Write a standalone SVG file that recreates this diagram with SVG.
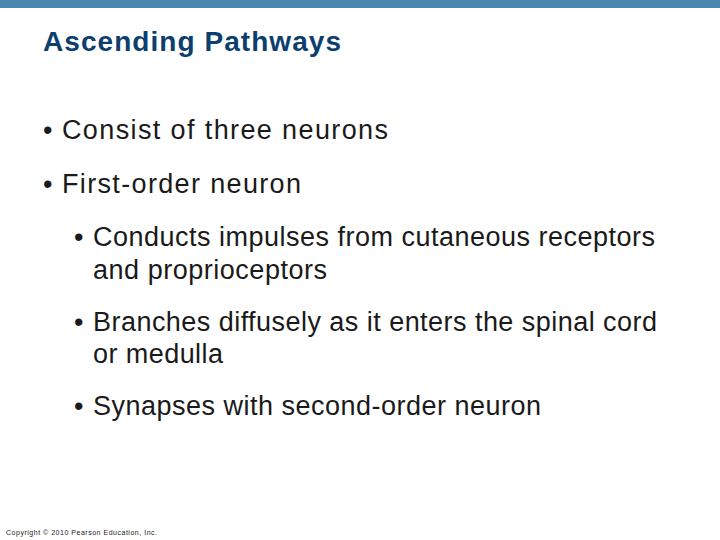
<svg xmlns="http://www.w3.org/2000/svg" width="720" height="540" viewBox="0 0 720 540">
<style>
text{font-family:"Liberation Sans",Arial,sans-serif;fill:#1a1a1a;font-size:27px}
</style>
<rect width="720" height="540" fill="#fff"/>
<rect width="720" height="8" fill="#4a86b0"/>
<text x="43" y="51" font-weight="bold" style="fill:#0d3f6e;font-size:28px" textLength="298" lengthAdjust="spacing">Ascending Pathways</text>
<text x="43" y="139">•</text><text x="62" y="139" textLength="326" lengthAdjust="spacing">Consist of three neurons</text>
<text x="43" y="193">•</text><text x="62" y="193" textLength="239" lengthAdjust="spacing">First-order neuron</text>
<text x="74" y="246">•</text><text x="93" y="246" textLength="562" lengthAdjust="spacing">Conducts impulses from cutaneous receptors</text>
<text x="93" y="279" textLength="234" lengthAdjust="spacing">and proprioceptors</text>
<text x="74" y="331">•</text><text x="93" y="331" textLength="564" lengthAdjust="spacing">Branches diffusely as it enters the spinal cord</text>
<text x="93" y="363" textLength="130" lengthAdjust="spacing">or medulla</text>
<text x="74" y="415">•</text><text x="93" y="415" textLength="448" lengthAdjust="spacing">Synapses with second-order neuron</text>
<text x="6" y="535" style="font-size:7px" textLength="151" lengthAdjust="spacing">Copyright © 2010 Pearson Education, Inc.</text>
</svg>
